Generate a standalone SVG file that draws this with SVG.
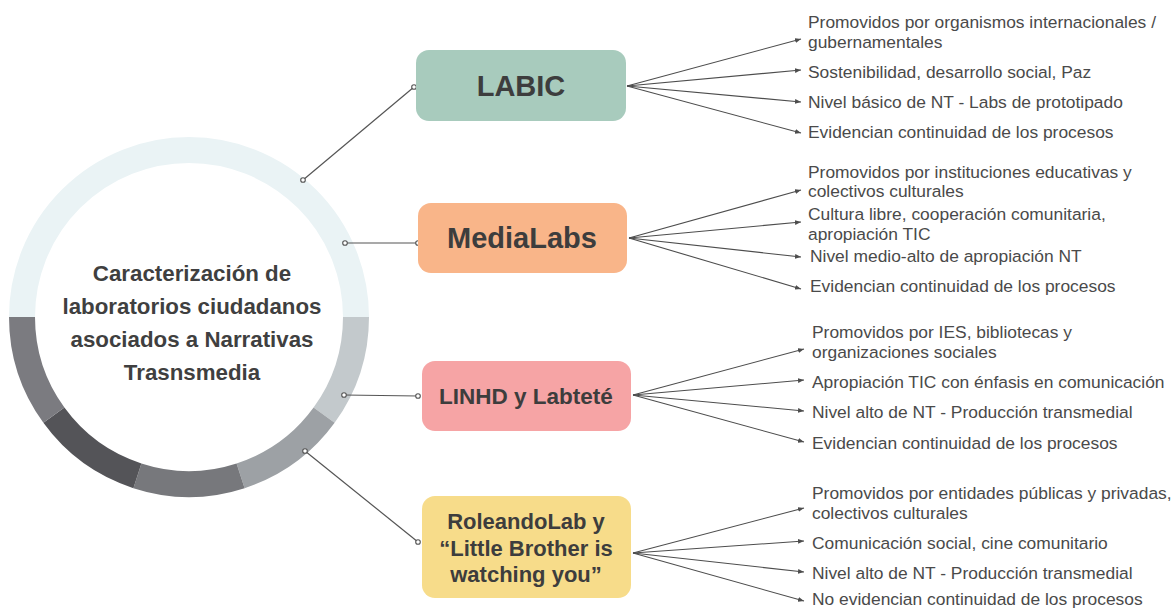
<svg xmlns="http://www.w3.org/2000/svg" width="1175" height="610" viewBox="0 0 1175 610">
<style>
.ring{fill:none;stroke-width:26}
.ctext{font-family:"Liberation Sans",Arial,sans-serif;font-weight:bold;font-size:22.3px;fill:#3f3f40;text-anchor:middle}
.btext{font-family:"Liberation Sans",Arial,sans-serif;font-weight:bold;fill:#3d3d3d;text-anchor:middle}
.item{font-family:"Liberation Sans",Arial,sans-serif;font-size:17.4px;fill:#4a4a4a}
.conn{stroke:#555;stroke-width:1.2;fill:none}
.fan{stroke:#4d4d4d;stroke-width:1.1;fill:none;marker-end:url(#arr)}
.dot{fill:#fff;stroke:#555;stroke-width:1.1}
</style>
<defs>
<marker id="arr" markerUnits="userSpaceOnUse" markerWidth="7" markerHeight="6" refX="6" refY="3" orient="auto">
<path d="M0,0.6 L6,3 L0,5.4 z" fill="#4d4d4d"/>
</marker>
</defs>
<rect width="1175" height="610" fill="#fff"/>
<g id="center">
<path class="ring" stroke="#eaf3f5" d="M22 317 A167 167 0 0 1 356 317"/>
<path class="ring" stroke="#c3c9cc" d="M356 317 A167 167 0 0 1 324.1 415.2"/>
<path class="ring" stroke="#9da1a5" d="M324.1 415.2 A167 167 0 0 1 240.6 475.8"/>
<path class="ring" stroke="#77787c" d="M240.6 475.8 A167 167 0 0 1 137.4 475.8"/>
<path class="ring" stroke="#545458" d="M137.4 475.8 A167 167 0 0 1 53.9 415.2"/>
<path class="ring" stroke="#7b7b80" d="M53.9 415.2 A167 167 0 0 1 22 317"/>
<text class="ctext" x="192" y="281">Caracterización de</text>
<text class="ctext" x="192" y="314">laboratorios ciudadanos</text>
<text class="ctext" x="192" y="347">asociados a Narrativas</text>
<text class="ctext" x="192" y="380">Trasnsmedia</text>
</g>
<g id="connectors">
<line class="conn" x1="303" y1="180" x2="414" y2="87"/>
<line class="conn" x1="345" y1="243" x2="418" y2="243"/>
<line class="conn" x1="344" y1="395" x2="418" y2="396"/>
<line class="conn" x1="305" y1="451" x2="418" y2="542"/>
<circle class="dot" cx="303" cy="180" r="2.3"/>
<circle class="dot" cx="414" cy="87" r="2.3"/>
<circle class="dot" cx="345" cy="243" r="2.3"/>
<circle class="dot" cx="418" cy="243" r="2.3"/>
<circle class="dot" cx="344" cy="395" r="2.3"/>
<circle class="dot" cx="418" cy="396" r="2.3"/>
<circle class="dot" cx="305" cy="451" r="2.3"/>
<circle class="dot" cx="418" cy="542" r="2.3"/>
<path class="fan" d="M627 86 L801 39"/>
<path class="fan" d="M627 86 L801 70"/>
<path class="fan" d="M627 86 L801 102"/>
<path class="fan" d="M627 86 L801 133"/>
<path class="fan" d="M629 238 L801 190"/>
<path class="fan" d="M629 238 L801 222"/>
<path class="fan" d="M629 238 L801 257"/>
<path class="fan" d="M629 238 L801 289"/>
<path class="fan" d="M633 395 L804 349"/>
<path class="fan" d="M633 395 L804 380"/>
<path class="fan" d="M633 395 L804 411"/>
<path class="fan" d="M633 395 L804 442"/>
<path class="fan" d="M633 553 L804 508"/>
<path class="fan" d="M633 553 L804 541"/>
<path class="fan" d="M633 553 L804 572"/>
<path class="fan" d="M633 553 L804 601"/>
</g>
<g id="labic">
<rect x="416" y="50" width="210" height="71" rx="13" fill="#a8cbbd"/>
<text class="btext" x="521" y="96" font-size="29">LABIC</text>
<text class="item" x="808" y="28">Promovidos por organismos internacionales /</text>
<text class="item" x="808" y="48">gubernamentales</text>
<text class="item" x="808" y="78">Sostenibilidad, desarrollo social, Paz</text>
<text class="item" x="808" y="108">Nivel básico de NT - Labs de prototipado</text>
<text class="item" x="808" y="138">Evidencian continuidad de los procesos</text>
</g>
<g id="medialabs">
<rect x="418" y="203" width="209" height="70" rx="13" fill="#f9b589"/>
<text class="btext" x="522" y="248" font-size="29">MediaLabs</text>
<text class="item" x="808" y="178">Promovidos por instituciones educativas y</text>
<text class="item" x="808" y="197">colectivos culturales</text>
<text class="item" x="808" y="220">Cultura libre, cooperación comunitaria,</text>
<text class="item" x="808" y="240">apropiación TIC</text>
<text class="item" x="810" y="262">Nivel medio-alto de apropiación NT</text>
<text class="item" x="810" y="292">Evidencian continuidad de los procesos</text>
</g>
<g id="linhd">
<rect x="422" y="361" width="209" height="70" rx="13" fill="#f6a4a5"/>
<text class="btext" x="526" y="404" font-size="22.5">LINHD y Labteté</text>
<text class="item" x="812" y="338">Promovidos por IES, bibliotecas y</text>
<text class="item" x="812" y="358">organizaciones sociales</text>
<text class="item" x="812" y="388">Apropiación TIC con énfasis en comunicación</text>
<text class="item" x="812" y="418">Nivel alto de NT - Producción transmedial</text>
<text class="item" x="812" y="449">Evidencian continuidad de los procesos</text>
</g>
<g id="roleando">
<rect x="422" y="496" width="209" height="102" rx="13" fill="#f7dc8a"/>
<text class="btext" x="526" y="529" font-size="22">RoleandoLab y</text>
<text class="btext" x="526" y="556" font-size="22">“Little Brother is</text>
<text class="btext" x="526" y="582" font-size="22">watching you”</text>
<text class="item" x="812" y="499">Promovidos por entidades públicas y privadas,</text>
<text class="item" x="812" y="519">colectivos culturales</text>
<text class="item" x="812" y="549">Comunicación social, cine comunitario</text>
<text class="item" x="812" y="579">Nivel alto de NT - Producción transmedial</text>
<text class="item" x="812" y="605">No evidencian continuidad de los procesos</text>
</g>
</svg>
